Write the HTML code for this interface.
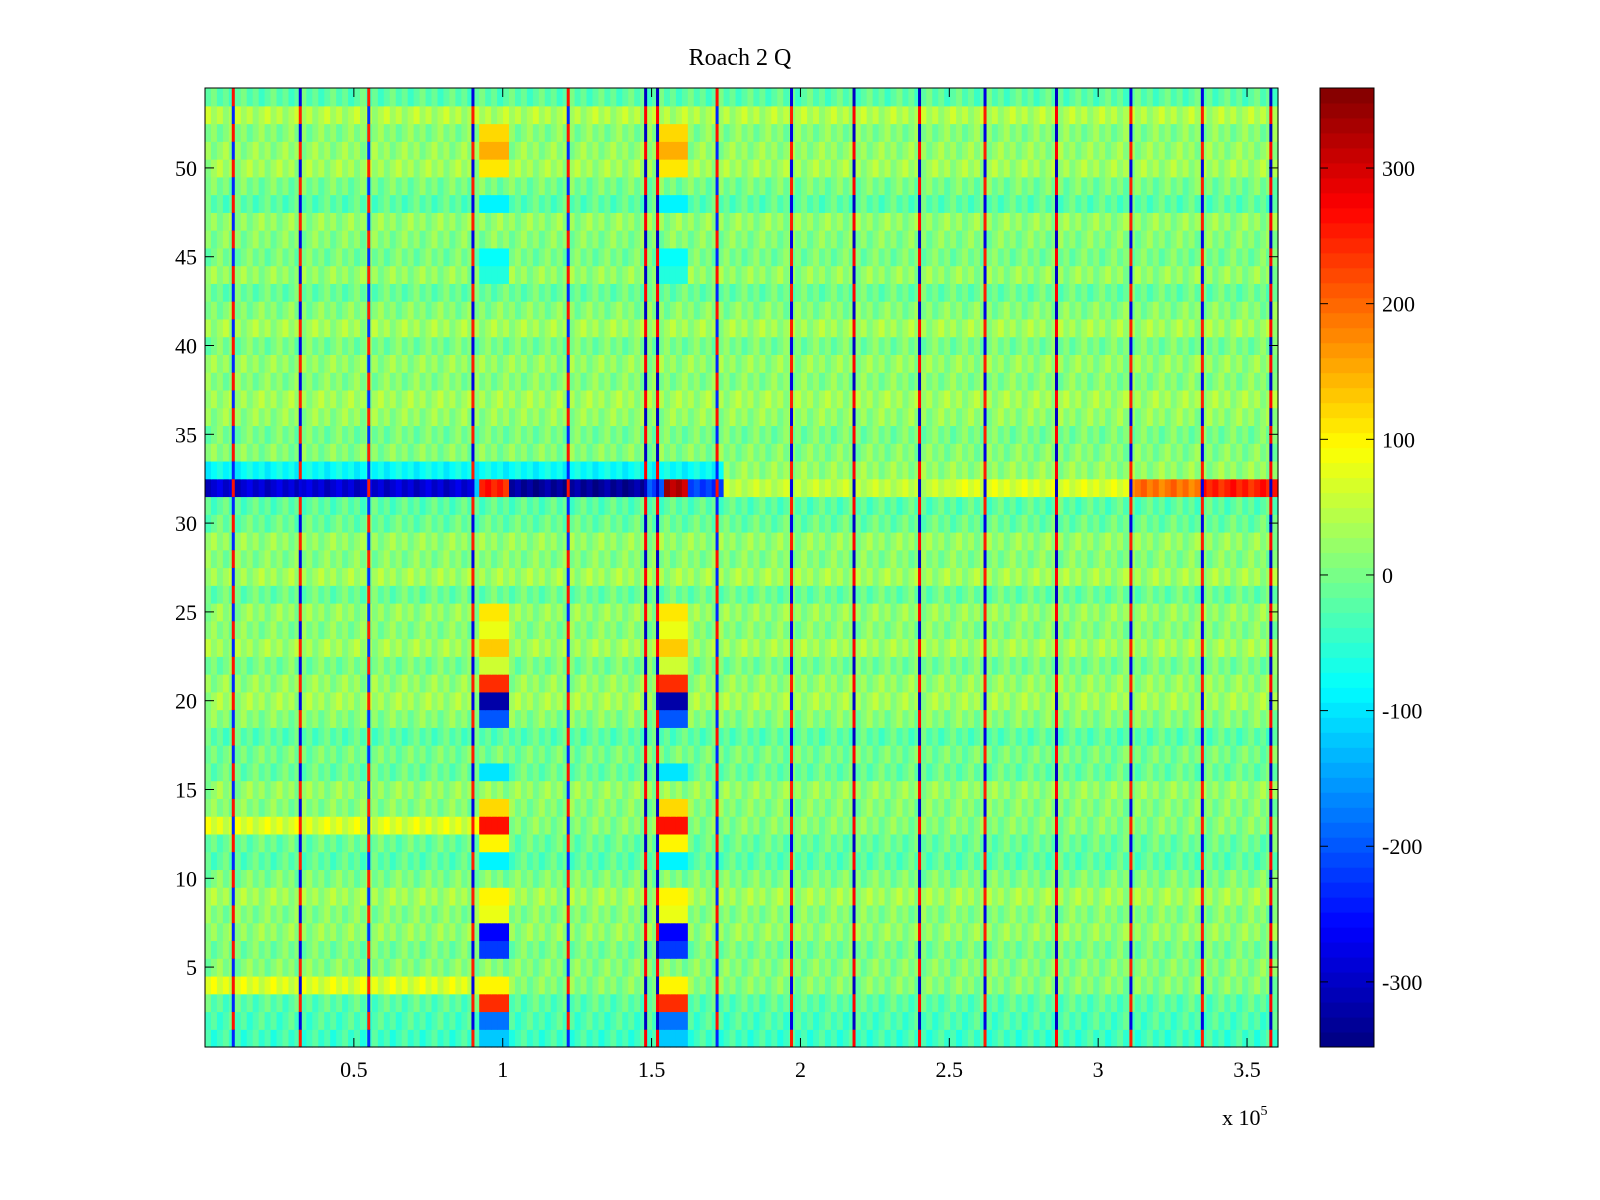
<!DOCTYPE html>
<html><head><meta charset="utf-8">
<style>
html,body{margin:0;padding:0;background:#fff;}
svg{display:block;font-family:"Liberation Serif",serif;}
</style></head>
<body>
<svg id="chart" width="1600" height="1200" xmlns="http://www.w3.org/2000/svg">
<text x="740" y="65" font-size="24" text-anchor="middle">Roach 2 Q</text>
<g id="cells"></g>
<g id="axes"></g>
<g id="cbar"></g>
</svg>
<script>
// ---- data ----
const xTicks=[0.5,1,1.5,2,2.5,3,3.5];
const xTickLabels=["0.5","1","1.5","2","2.5","3","3.5"];
const yTicks=[5,10,15,20,25,30,35,40,45,50];
const cbTicks=[-300,-200,-100,0,100,200,300];
// base value per row (row 1..54)
const rowBase=[-40,-30,-20,10,10,0,20,10,30,5,-20,-10,10,10,20,-10,0,-20,10,30,20,0,30,10,20,-10,30,10,20,-10,-20,0,20,10,0,20,30,10,20,0,30,10,-10,20,0,10,20,-20,0,30,20,10,40,-20];
// left-region (x<1e5) extra for some rows
const rowLeftExtra={4:60,13:60};
// row 33 value for x < 1.75e5
const row33Left=-80;
// vertical line positions (x 1e5) and values
const linePos=[0.095,0.32,0.55,0.9,1.22,1.48,1.52,1.72,1.97,2.18,2.4,2.62,2.86,3.11,3.35,3.58];
const lineVal=[260,-280,250,-280,260,-300,-300,260,-280,-300,-300,-280,-300,-280,-280,-300];
// block columns
const blockRanges=[[0.92,1.02],[1.53,1.63]];
const blockRows={52:120,51:150,50:110,48:-90,45:-80,44:-60,25:110,24:80,23:130,22:60,21:240,20:-320,19:-200,16:-100,14:120,13:260,12:100,11:-90,9:100,8:80,7:-260,6:-220,4:100,3:240,2:-180,1:-120};
// row 32 stripe segments [x0,x1,value]
const stripe32=[[0,0.9,-290],[0.9,0.93,-100],[0.93,1.02,250],[1.02,1.48,-330],[1.48,1.55,-200],[1.55,1.63,320],[1.63,1.75,-220],[1.75,2.5,50],[2.5,3.1,70],[3.1,3.35,190],[3.35,3.6,250]];

// ---- scales ----
const X0=205,X1=1278,Y0=88,Y1=1047;
const xMax=3.604;
const xs=v=>X0+(v/xMax)*(X1-X0);
const ys=v=>Y1-(v-0.5)/54*(Y1-Y0);
const vmin=-348,vmax=359;
function jet(v){let t=(v-vmin)/(vmax-vmin);t=Math.max(0,Math.min(1,t));
 const f=x=>Math.max(0,Math.min(1,x));
 const r=f(1.5-Math.abs(4*t-3)),g=f(1.5-Math.abs(4*t-2)),b=f(1.5-Math.abs(4*t-1));
 return `rgb(${Math.round(r*255)},${Math.round(g*255)},${Math.round(b*255)})`;}
const NS="http://www.w3.org/2000/svg";
function mk(tag,attrs,parent){const e=document.createElementNS(NS,tag);for(const k in attrs)e.setAttribute(k,attrs[k]);parent.appendChild(e);return e;}

const cells=document.getElementById('cells');
const nCols=180,dx=xMax/nCols;
for(let r=1;r<=54;r++){
 for(let c=0;c<nCols;c++){
  const xc=(c+0.5)*dx;
  let v=rowBase[r-1]+((c*7+r*3)%5-2)*12;
  if(xc<1.0&&rowLeftExtra[r]!==undefined)v+=rowLeftExtra[r];
  if(r===33&&xc<1.75)v=row33Left+((c*7)%5-2)*10;
  for(const br of blockRanges){if(xc>=br[0]&&xc<br[1]&&blockRows[r]!==undefined)v=blockRows[r];}
  if(r===32){for(const s of stripe32){if(xc>=s[0]&&xc<s[1])v=s[2]+((c*7)%5-2)*10;}}
  const rect=mk('rect',{x:xs(c*dx),y:ys(r+0.5),width:xs(dx)-X0+0.6,height:ys(r-0.5)-ys(r+0.5)+0.6,fill:jet(v)},cells);
  
  
 }
}
// vertical lines, alternating red/blue by row
for(let i=0;i<linePos.length;i++){
 for(let r=1;r<=54;r++){
  const v=(r%2===0)?lineVal[i]:-lineVal[i]*0.9;
  const ln=mk('rect',{x:xs(linePos[i])-1.5,y:ys(r+0.5),width:3,height:ys(r-0.5)-ys(r+0.5)+0.5,fill:jet(v)},cells);
  
  
 }
}
// axes
const ax=document.getElementById('axes');
mk('rect',{x:X0,y:Y0,width:X1-X0,height:Y1-Y0,fill:'none',stroke:'#000','stroke-width':1},ax);
xTicks.forEach((t,i)=>{const x=xs(t);
 mk('line',{x1:x,y1:Y1,x2:x,y2:Y1-9,stroke:'#000'},ax);
 mk('line',{x1:x,y1:Y0,x2:x,y2:Y0+9,stroke:'#000'},ax);
 const tx=mk('text',{x:x,y:Y1+30,'font-size':22,'text-anchor':'middle'},ax);tx.textContent=xTickLabels[i];
 });
yTicks.forEach(t=>{const y=ys(t);
 mk('line',{x1:X0,y1:y,x2:X0+9,y2:y,stroke:'#000'},ax);
 mk('line',{x1:X1,y1:y,x2:X1-9,y2:y,stroke:'#000'},ax);
 const tx=mk('text',{x:X0-8,y:y+8,'font-size':22,'text-anchor':'end'},ax);tx.textContent=t;
 });
const ex=mk('text',{x:1222,y:1125,'font-size':22},ax);ex.innerHTML='x 10<tspan dy="-10" font-size="14">5</tspan>';

// colorbar
const cb=document.getElementById('cbar');
const C0=1320,C1=1374;
const cy=v=>Y1-(v-vmin)/(vmax-vmin)*(Y1-Y0);
const nSteps=64;
for(let i=0;i<nSteps;i++){const v0=vmin+(vmax-vmin)*i/nSteps,v1=vmin+(vmax-vmin)*(i+1)/nSteps;
 const s=mk('rect',{x:C0,y:cy(v1),width:C1-C0,height:cy(v0)-cy(v1)+0.5,fill:jet((v0+v1)/2)},cb);
 }
mk('rect',{x:C0,y:Y0,width:C1-C0,height:Y1-Y0,fill:'none',stroke:'#000'},cb);
cbTicks.forEach(t=>{const y=cy(t);
 mk('line',{x1:C0,y1:y,x2:C0+8,y2:y,stroke:'#000'},cb);
 mk('line',{x1:C1,y1:y,x2:C1-8,y2:y,stroke:'#000'},cb);
 const tx=mk('text',{x:C1+8,y:y+8,'font-size':22},cb);tx.textContent=t;
 });
</script>
</body></html>
